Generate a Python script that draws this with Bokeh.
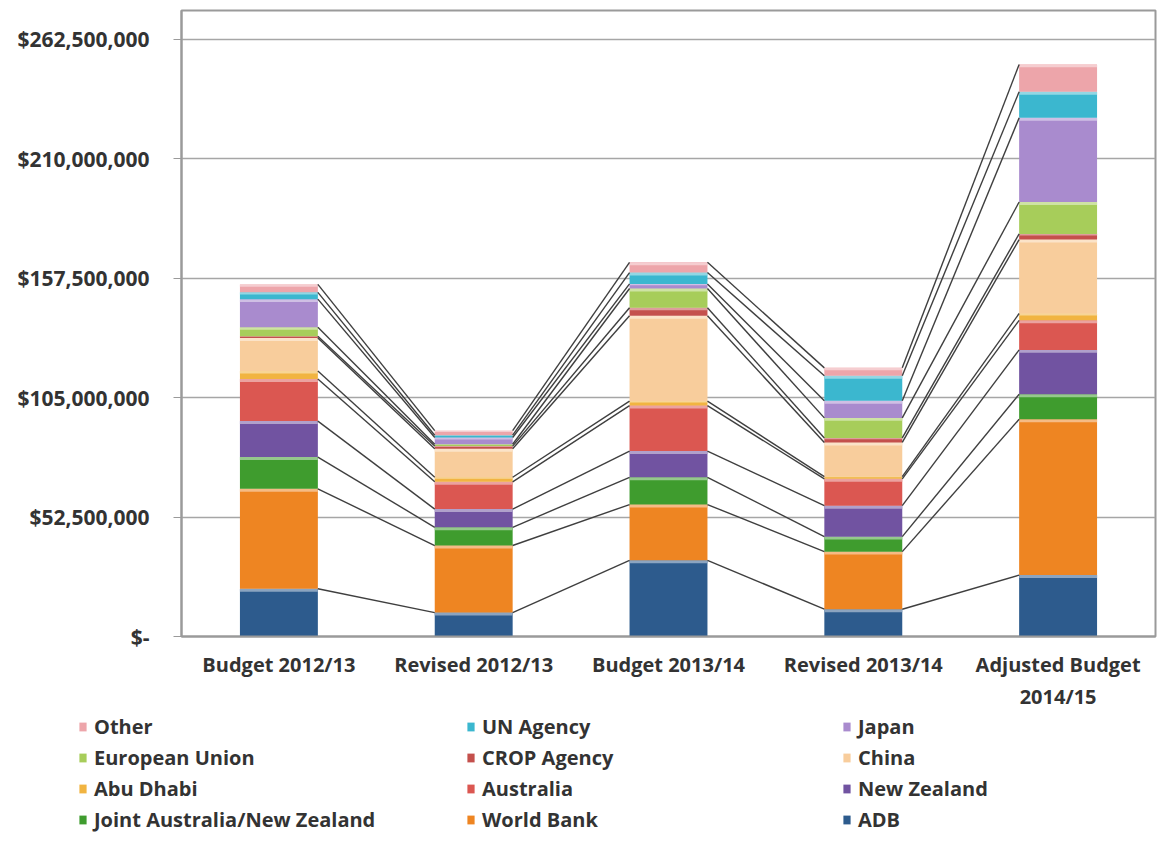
from bokeh.plotting import figure
from bokeh.layouts import column
from bokeh.models import ColumnDataSource, FixedTicker, Legend, LegendItem, Range1d
from bokeh.embed import file_html
from bokeh.resources import INLINE

# ---------------- data (millions of dollars) ----------------
categories = ["Budget 2012/13", "Revised 2012/13", "Budget 2013/14",
              "Revised 2013/14", "Adjusted Budget\n2014/15"]

series_names = ["ADB", "World Bank", "Joint Australia/New Zealand", "New Zealand",
                "Australia", "Abu Dhabi", "China", "CROP Agency", "European Union",
                "Japan", "UN Agency", "Other"]

adb         = [21.0, 10.5, 33.5, 12.0, 27.0]
world_bank  = [43.9, 29.5, 24.5, 25.3, 68.5]
joint_au_nz = [14.0,  8.0, 12.0,  6.6, 11.0]
new_zealand = [15.8,  8.0, 11.5, 13.6, 19.5]
australia   = [18.5, 12.0, 20.0, 11.8, 13.0]
abu_dhabi   = [ 3.5,  2.0,  2.0,  1.0,  3.0]
china       = [14.5, 12.5, 37.5, 15.0, 32.5]
crop_agency = [ 0.8,  1.2,  3.5,  2.0,  2.5]
european_union = [4.0, 0.8, 8.5,  8.8, 14.0]
japan       = [12.3,  3.0,  2.0,  7.5, 37.0]
un_agency   = [ 3.0,  1.0,  5.0, 11.0, 11.5]
other       = [ 3.5,  2.0,  4.5,  3.5, 12.0]

y_ticks = [0, 52.5, 105, 157.5, 210, 262.5]
y_tick_labels = ["$-", "$52,500,000", "$105,000,000", "$157,500,000",
                 "$210,000,000", "$262,500,000"]

# legend columns, as laid out in the source (top to bottom)
legend_cols = [["Other", "European Union", "Abu Dhabi", "Joint Australia/New Zealand"],
               ["UN Agency", "CROP Agency", "Australia", "World Bank"],
               ["Japan", "China", "New Zealand", "ADB"]]

series_values = [adb, world_bank, joint_au_nz, new_zealand, australia, abu_dhabi,
                 china, crop_agency, european_union, japan, un_agency, other]

colors = ["#2D5B8D", "#EE8522", "#3F9C2E", "#7153A1", "#DB5751", "#F1B441",
          "#F8CD9C", "#C4504C", "#A7CD5A", "#A98BCE", "#3BB7CF", "#EDA5AA"]

# ---------------- main chart ----------------
SCALE = 1e6
FONT = "Open Sans"
TXT = "#333333"
W = 1158

p = figure(width=W, height=712, output_backend="svg", toolbar_location=None,
           x_range=Range1d(-0.5, 4.5), y_range=Range1d(0, 275.2 * SCALE),
           min_border_left=181, min_border_right=3, min_border_top=10,
           min_border_bottom=74)
p.background_fill_color = "white"
p.border_fill_color = "white"
p.outline_line_color = "#9A9A9A"
p.outline_line_width = 2
p.frame_align = False

def lighten(hex_color, f):
    h = hex_color.lstrip("#")
    r, g, b = (int(h[i:i + 2], 16) for i in (0, 2, 4))
    r = int(r + (255 - r) * f); g = int(g + (255 - g) * f); b = int(b + (255 - b) * f)
    return "#%02x%02x%02x" % (r, g, b)

BAR_W = 0.4
xs = list(range(len(categories)))
bottoms = [0.0] * len(categories)
tops_by_series = []
for name, vals, col in zip(series_names, series_values, colors):
    bot = [b * SCALE for b in bottoms]
    top = [(b + v) * SCALE for b, v in zip(bottoms, vals)]
    src = ColumnDataSource(dict(x=xs, bottom=bot, top=top))
    p.vbar(x="x", bottom="bottom", top="top", width=BAR_W, source=src,
           fill_color=col, line_color=None)
    # light top edge (bevel look)
    hl_bot = [t - min(1.3 * SCALE, 0.3 * v * SCALE) for t, v in zip(top, vals)]
    p.vbar(x=xs, bottom=hl_bot, top=top, width=BAR_W,
           fill_color=lighten(col, 0.45), line_color=None)
    bottoms = [b + v for b, v in zip(bottoms, vals)]
    tops_by_series.append(top)

# series lines between bars
x0, x1, y0, y1 = [], [], [], []
for top in tops_by_series:
    for j in range(len(categories) - 1):
        x0.append(j + BAR_W / 2); x1.append(j + 1 - BAR_W / 2)
        y0.append(top[j]); y1.append(top[j + 1])
p.segment(x0=x0, y0=y0, x1=x1, y1=y1, line_color="#3F3F3F", line_width=1.4)

# axes
p.xgrid.visible = False
p.ygrid.grid_line_color = "#A6A6A6"
p.ygrid.grid_line_width = 1.5
p.yaxis.ticker = FixedTicker(ticks=[t * SCALE for t in y_ticks])
p.yaxis.major_label_overrides = {(int(t * SCALE) if float(t * SCALE).is_integer() else t * SCALE): lab
                                 for t, lab in zip(y_ticks, y_tick_labels)}
p.yaxis.minor_tick_line_color = None
p.yaxis.major_tick_out = 8
p.yaxis.major_tick_in = 0
p.yaxis.major_tick_line_color = "#9A9A9A"
p.yaxis.axis_line_color = "#9A9A9A"
p.yaxis.axis_line_width = 2
p.yaxis.major_label_standoff = 24
p.yaxis.major_label_text_font = FONT
p.yaxis.major_label_text_font_style = "bold"
p.yaxis.major_label_text_font_size = "21px"
p.yaxis.major_label_text_color = TXT

p.xaxis.ticker = FixedTicker(ticks=xs)
p.xaxis.major_label_overrides = {i: c for i, c in enumerate(categories)}
p.xaxis.minor_tick_line_color = None
p.xaxis.major_tick_line_color = None
p.xaxis.axis_line_color = "#9A9A9A"
p.xaxis.axis_line_width = 2
p.xaxis.major_label_standoff = 8
p.xaxis.major_label_text_font = FONT
p.xaxis.major_label_text_font_style = "bold"
p.xaxis.major_label_text_font_size = "20px"
p.xaxis.major_label_text_color = TXT

# ---------------- legend strip below ----------------
lg = figure(width=W, height=128, output_backend="svg", toolbar_location=None,
            x_range=Range1d(0, 1), y_range=Range1d(0, 1),
            x_axis_type=None, y_axis_type=None, min_border=0)
lg.outline_line_color = None
lg.grid.visible = False
lg.background_fill_color = "white"
lg.border_fill_color = "white"
lg.frame_align = False

# swatch renderers (a single off-screen, zero-height bar each) for the legend
swatch = {name: lg.vbar(x=[-1.0], bottom=[0.0], top=[0.0], width=0.1,
                        fill_color=col, line_color=None)
          for name, col in zip(series_names, colors)}

legend_x = [78, 466, 842]
for names, lx in zip(legend_cols, legend_x):
    leg = Legend(items=[LegendItem(label=n, renderers=[swatch[n]]) for n in names],
                 location=(lx, 7), orientation="vertical",
                 glyph_width=9, glyph_height=11, label_standoff=7, spacing=4,
                 padding=0, margin=0, border_line_color=None,
                 background_fill_alpha=0,
                 label_text_font=FONT, label_text_font_style="bold",
                 label_text_font_size="20px", label_text_color=TXT)
    lg.add_layout(leg, "center")

layout = column(p, lg, spacing=0)
open("out.html", "w").write(file_html(layout, INLINE))
